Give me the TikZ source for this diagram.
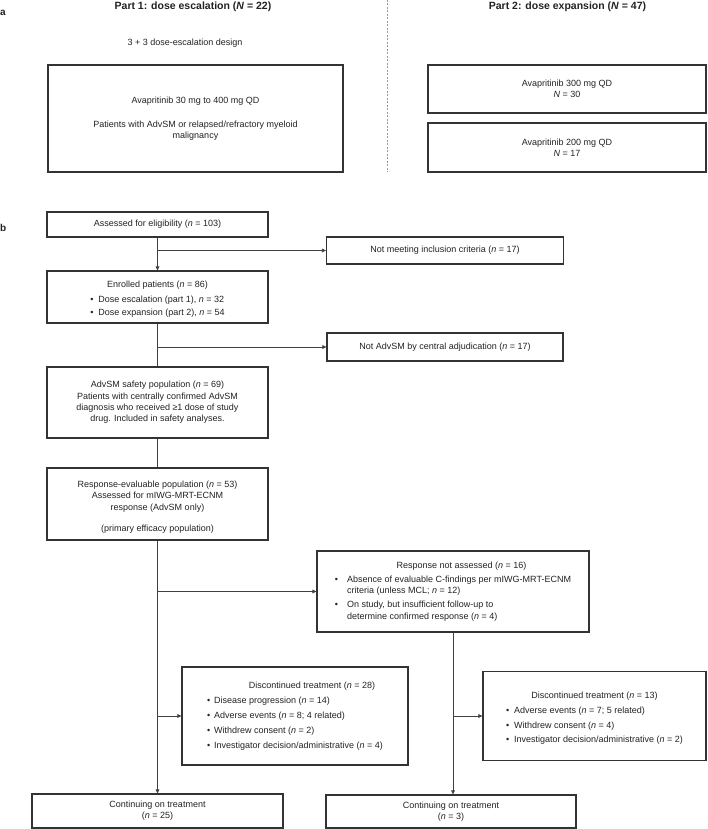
\documentclass[tikz,border=0pt]{standalone}
\usepackage{fontspec}
\setmainfont{Liberation Sans}
\usetikzlibrary{arrows.meta}
\definecolor{boxc}{HTML}{333333}
\definecolor{linec}{HTML}{404040}
\definecolor{txtc}{HTML}{222222}
\definecolor{dashc}{HTML}{999999}
\newcommand{\nn}{\textit{n}}
\newcommand{\NN}{\textit{N}}
\begin{document}
\begin{tikzpicture}[x=1pt,y=-1pt,
  font=\fontsize{9}{11.3}\selectfont, text=txtc,
  box/.style={draw=boxc, line width=1.1pt, inner sep=0pt, align=center},
  lbox/.style={draw=boxc, line width=1.1pt, inner sep=0pt},
  conn/.style={draw=linec, line width=0.7pt},
  arr/.style={conn, -{Triangle[length=4pt,width=3.6pt]}},
  head/.style={font=\fontsize{10.5}{12}\selectfont\bfseries},
  panel/.style={font=\fontsize{10}{12}\selectfont\bfseries, anchor=west, inner sep=0pt}
]
\useasboundingbox (0,0) rectangle (707,829);

% ---------- panel a ----------
\node[panel] (la) at (0,13) {a};
\node[head] (h1) at (193,6.5) {Part 1: dose escalation (\textit{N} = 22)};
\node[head] (h2) at (567.5,6.5) {Part 2: dose expansion (\textit{N} = 47)};
\node (design) at (185,43) {3 + 3 dose-escalation design};
\coordinate (dtop) at (387,0);
\coordinate (dbot) at (387,172);
\draw[dashc, line width=0.6pt, dash pattern=on 2pt off 1.5pt] (dtop) -- (dbot);

\node[box, minimum width=295pt, minimum height=107pt] (esc) at (195.5,118.5)
  {Avapritinib 30 mg to 400 mg QD\\[13pt]Patients with AdvSM or relapsed/refractory myeloid\\malignancy};
\node[box, minimum width=278pt, minimum height=48pt] (e300) at (567,89)
  {Avapritinib 300 mg QD\\\NN{} = 30};
\node[box, minimum width=278pt, minimum height=49pt] (e200) at (567,147.5)
  {Avapritinib 200 mg QD\\\NN{} = 17};

% ---------- panel b ----------
\node[panel] (lb) at (0,228) {b};

\node[box, minimum width=221pt, minimum height=25pt] (assess) at (157.5,224.5)
  {Assessed for eligibility (\nn{} = 103)};
\node[box, minimum width=237pt, minimum height=27pt] (notmeet) at (445,250.5)
  {Not meeting inclusion criteria (\nn{} = 17)};
\node[lbox, minimum width=221pt, minimum height=52pt] (enrol) at (157.5,297)
  {\begin{tabular}{@{}l@{\hspace{5pt}}l@{}}
   \multicolumn{2}{@{}c@{}}{\rule{0pt}{12pt}Enrolled patients (\nn{} = 86)\hspace{6pt}}\\[3.7pt]
   \textbullet & Dose escalation (part 1), \nn{} = 32\\[1.7pt]
   \textbullet & Dose expansion (part 2), \nn{} = 54
   \end{tabular}};
\node[box, minimum width=236pt, minimum height=28pt] (notadv) at (445,347)
  {Not AdvSM by central adjudication (\nn{} = 17)};
\node[box, minimum width=221pt, minimum height=71pt] (safety) at (157.5,402.5)
  {AdvSM safety population (\nn{} = 69)\\Patients with centrally confirmed AdvSM\\diagnosis who received ≥1 dose of study\\drug. Included in safety analyses.};
\node[box, minimum width=221pt, minimum height=72pt] (respev) at (157.5,504)
  {\rule{0pt}{13pt}Response-evaluable population (\nn{} = 53)\\Assessed for mIWG-MRT-ECNM\\response (AdvSM only)\\[10pt](primary efficacy population)};

\node[lbox, minimum width=272pt, minimum height=81pt] (notass) at (453,591.5)
  {\begin{tabular}{@{}l@{\hspace{9pt}}l@{}}
   \multicolumn{2}{@{}c@{}}{\hspace{17pt}Response not assessed (\nn{} = 16)}\\[2.7pt]
   \textbullet & Absence of evaluable C-findings per mIWG-MRT-ECNM\\
    & criteria (unless MCL; \nn{} = 12)\\[2.7pt]
   \textbullet & On study, but insufficient follow-up to\\
    & determine confirmed response (\nn{} = 4)
   \end{tabular}\hspace{19pt}};

\node[lbox, minimum width=226pt, minimum height=98pt] (disc1) at (295,716)
  {\begin{tabular}{@{}l@{\hspace{4pt}}l@{}}
   \multicolumn{2}{@{}c@{}}{\hspace{34pt}Discontinued treatment (\nn{} = 28)}\\[3.7pt]
   \textbullet & Disease progression (\nn{} = 14)\\[3.7pt]
   \textbullet & Adverse events (\nn{} = 8; 4 related)\\[3.7pt]
   \textbullet & Withdrew consent (\nn{} = 2)\\[3.7pt]
   \textbullet & Investigator decision/administrative (\nn{} = 4)
   \end{tabular}\hspace{22pt}};

\node[lbox, minimum width=223pt, minimum height=89pt] (disc2) at (594.5,716)
  {\begin{tabular}{@{}l@{\hspace{5pt}}l@{}}
   \multicolumn{2}{@{}c@{}}{\rule{0pt}{12pt}Discontinued treatment (\nn{} = 13)\hspace{17pt}}\\[3.7pt]
   \textbullet & Adverse events (\nn{} = 7; 5 related)\\[3.7pt]
   \textbullet & Withdrew consent (\nn{} = 4)\\[2.7pt]
   \textbullet & Investigator decision/administrative (\nn{} = 2)
   \end{tabular}\hspace{16pt}};

\node[box, minimum width=251pt, minimum height=34pt] (cont1) at (157.5,811)
  {Continuing on treatment\\(\nn{} = 25)};
\node[box, minimum width=250pt, minimum height=33pt] (cont2) at (451,811.5)
  {Continuing on treatment\\(\nn{} = 3)};

% ---------- connectors ----------
\draw[arr] (assess) -- (enrol);
\draw[arr] (assess.south |- notmeet.west) -- (notmeet.west);
\draw[conn] (enrol) -- (safety);
\draw[arr] (enrol.south |- notadv.west) -- (notadv.west);
\draw[conn] (safety) -- (respev);
\draw[arr] (respev) -- (cont1);
\draw[arr] (respev.south |- notass.west) -- (notass.west);
\draw[arr] (respev.south |- disc1.west) -- (disc1.west);
\draw[arr] (notass.south) -- (notass.south |- cont2.north);
\draw[arr] (notass.south |- disc2.west) -- (disc2.west);
\end{tikzpicture}
\end{document}
